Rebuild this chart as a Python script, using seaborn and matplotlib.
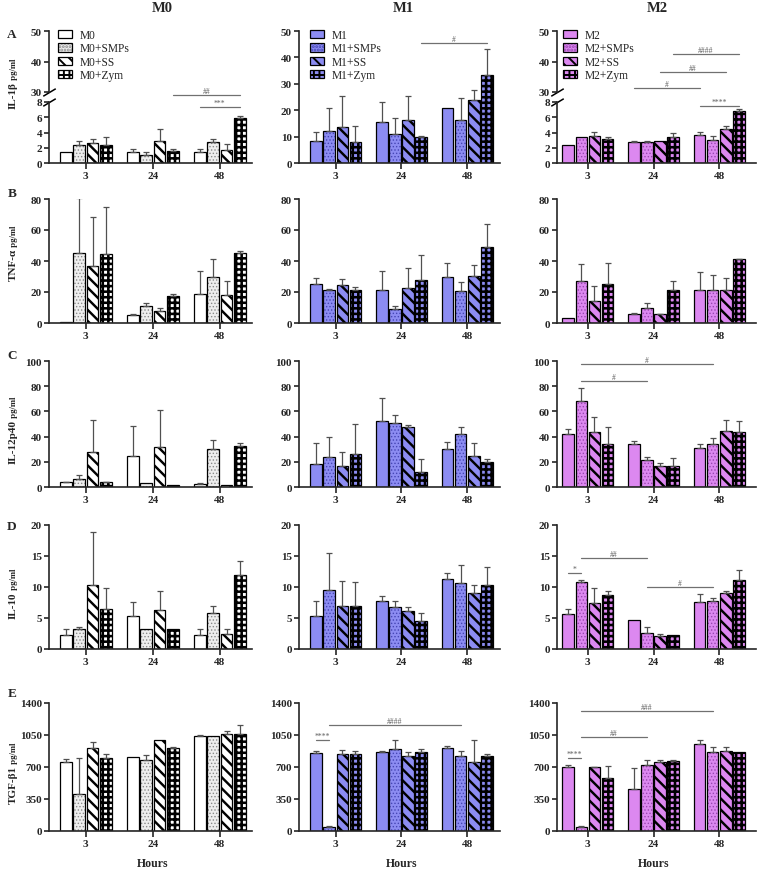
import matplotlib
matplotlib.use("Agg")
import matplotlib.pyplot as plt
import seaborn as sns
import pandas as pd
import numpy as np
from matplotlib.patches import Patch

sns.set_theme(style="ticks")
plt.rcParams["font.family"] = ["Liberation Serif", "DejaVu Serif"]
plt.rcParams["font.weight"] = "bold"
plt.rcParams["hatch.linewidth"] = 1.4
plt.rcParams["axes.linewidth"] = 1.2

# ---------------- data ----------------
hours = ["3", "24", "48"]
cells = ["M0", "M1", "M2"]
suffixes = ["", "+SMPs", "+SS", "+Zym"]
row_letters = ["A", "B", "C", "D", "E"]
cytokines = ["IL-1β", "TNF-α", "IL-12p40", "IL-10", "TGF-β1"]
unit = "pg/ml"
x_title = "Hours"

# values: [hour][treatment]  (treatment order: base, +SMPs, +SS, +Zym)
il1b_m0 = [[1.4, 2.4, 2.6, 2.4], [1.4, 1.1, 2.9, 1.6], [1.4, 2.7, 1.7, 5.9]]
il1b_m0_err = [[0, 0.5, 0.5, 1.0], [0.5, 0.3, 1.5, 0.3], [0.5, 0.4, 0.8, 0.3]]
il1b_m1 = [[8.2, 12.1, 13.5, 8.0], [15.7, 11.1, 16.2, 9.7], [21.0, 16.2, 23.7, 33.2]]
il1b_m1_err = [[3.5, 8.9, 12.0, 6.0], [7.5, 6.1, 9.1, 0.7], [0, 8.4, 4.1, 10.1]]
il1b_m2 = [[2.4, 3.4, 3.5, 3.1], [2.7, 2.7, 2.9, 3.4], [3.7, 3.0, 4.5, 6.8]]
il1b_m2_err = [[0, 0, 0.6, 0.3], [0.2, 0.2, 0, 0.5], [0.4, 0.5, 0.3, 0.3]]

tnf_m0 = [[0.5, 45.2, 36.8, 44.8], [5.2, 11.2, 7.8, 17.3], [18.8, 29.6, 18.2, 45.4]]
tnf_m0_err = [[0, 35.7, 31.7, 29.8], [0.4, 1.6, 1.7, 1.3], [14.7, 11.5, 9.0, 0.9]]
tnf_m1 = [[25.1, 21.3, 24.2, 21.5], [21.5, 9.3, 22.9, 27.8], [29.5, 20.4, 30.5, 49.1]]
tnf_m1_err = [[4.2, 0.4, 4.4, 1.7], [12.0, 1.6, 12.3, 16.2], [9.4, 5.9, 7.2, 14.5]]
tnf_m2 = [[3.0, 27.0, 14.0, 25.0], [6.0, 10.0, 5.5, 21.0], [21.0, 21.0, 21.0, 41.0]]
tnf_m2_err = [[0, 11.0, 10.0, 14.0], [0.5, 3.0, 0.5, 6.0], [12.0, 10.0, 8.0, 0.5]]

il12_m0 = [[3.7, 6.0, 27.6, 3.7], [25.0, 2.9, 31.6, 1.6], [2.1, 30.3, 1.8, 32.4]]
il12_m0_err = [[0.5, 3.2, 25.3, 0.5], [23.7, 0, 29.7, 0], [1.1, 6.8, 0, 2.9]]
il12_m1 = [[18.0, 24.0, 17.0, 26.0], [52.0, 51.0, 48.0, 12.0], [30.0, 42.0, 25.0, 20.0]]
il12_m1_err = [[17.0, 16.0, 11.0, 24.0], [19.0, 6.0, 1.0, 10.0], [6.0, 6.0, 10.0, 2.0]]
il12_m2 = [[42.0, 68.6, 43.4, 34.0], [34.0, 21.3, 16.5, 17.0], [30.9, 33.8, 44.1, 43.9]]
il12_m2_err = [[4.0, 10.1, 12.5, 13.3], [2.7, 2.9, 2.6, 5.9], [3.1, 5.0, 9.1, 8.2]]

il10_m0 = [[2.2, 3.2, 10.3, 6.5], [5.4, 3.2, 6.3, 3.2], [2.2, 5.8, 2.5, 12.0]]
il10_m0_err = [[1.0, 0.3, 8.6, 3.4], [2.2, 0, 3.0, 0], [1.0, 1.1, 0.7, 2.2]]
il10_m1 = [[5.4, 9.5, 7.0, 6.9], [7.8, 6.7, 6.1, 4.5], [11.3, 10.6, 9.0, 10.4]]
il10_m1_err = [[2.3, 6.0, 4.0, 3.9], [0.8, 1.0, 0.6, 1.3], [0.9, 2.9, 1.4, 2.8]]
il10_m2 = [[5.6, 10.8, 7.4, 8.7], [4.7, 2.6, 2.1, 2.3], [7.6, 7.8, 9.1, 11.1]]
il10_m2_err = [[0.9, 0.3, 2.5, 0.7], [0, 0.9, 0.3, 0], [1.2, 0.4, 0.2, 1.7]]

tgf_m0 = [[755, 405, 908, 800], [810, 780, 1000, 905], [1040, 1040, 1065, 1065]]
tgf_m0_err = [[29, 394, 62, 43], [0, 50, 0, 17], [8, 0, 25, 90]]
tgf_m1 = [[858, 47, 844, 840], [862, 902, 818, 866], [909, 818, 756, 822]]
tgf_m1_err = [[18, 8, 43, 33], [18, 91, 47, 29], [22, 62, 237, 18]]
tgf_m2 = [[705, 44, 698, 582], [462, 720, 756, 767], [953, 865, 873, 865]]
tgf_m2_err = [[19, 11, 7, 127], [225, 55, 19, 11], [40, 55, 47, 0]]

ticks_il1b = [0, 10, 20, 30, 40, 50]
ticks_il1b_low = [0, 2, 4, 6, 8]
ticks_il1b_high = [30, 40, 50]
ticks_tnf = [0, 20, 40, 60, 80]
ticks_il12 = [0, 20, 40, 60, 80, 100]
ticks_il10 = [0, 5, 10, 15, 20]
ticks_tgf = [0, 350, 700, 1050, 1400]

# significance annotations: (from, to, height, label)
sig_il1b_m0 = [(1.3, 2.3, 29.0, "##"), (1.7, 2.3, 7.3, "***")]
sig_il1b_m1 = [(1.3, 2.3, 45.5, "#")]
sig_il1b_m2 = [(1.3, 2.3, 42.5, "####"), (1.1, 2.1, 36.5, "##"),
               (0.7, 1.7, 31.3, "#"), (1.7, 2.3, 7.5, "****")]
sig_il12_m2 = [(-0.1, 1.9, 97.6, "#"), (-0.1, 0.9, 84.0, "#")]
sig_il10_m2 = [(-0.3, -0.1, 12.3, "*"), (-0.1, 0.9, 14.7, "##"), (0.9, 1.9, 10.0, "#")]
sig_tgf_m1 = [(-0.3, -0.1, 995, "****"), (-0.1, 1.9, 1160, "####")]
sig_tgf_m2 = [(-0.3, -0.1, 798, "****"), (-0.1, 0.9, 1028, "##"), (-0.1, 1.9, 1312, "###")]

values = [[il1b_m0, il1b_m1, il1b_m2], [tnf_m0, tnf_m1, tnf_m2],
          [il12_m0, il12_m1, il12_m2], [il10_m0, il10_m1, il10_m2],
          [tgf_m0, tgf_m1, tgf_m2]]
errors = [[il1b_m0_err, il1b_m1_err, il1b_m2_err], [tnf_m0_err, tnf_m1_err, tnf_m2_err],
          [il12_m0_err, il12_m1_err, il12_m2_err], [il10_m0_err, il10_m1_err, il10_m2_err],
          [tgf_m0_err, tgf_m1_err, tgf_m2_err]]
row_ticks = [ticks_il1b, ticks_tnf, ticks_il12, ticks_il10, ticks_tgf]
sigs = {(0, 0): sig_il1b_m0, (0, 1): sig_il1b_m1, (0, 2): sig_il1b_m2,
        (2, 2): sig_il12_m2, (3, 2): sig_il10_m2, (4, 1): sig_tgf_m1, (4, 2): sig_tgf_m2}

# ---------------- style ----------------
base_col = {"M0": "#ffffff", "M1": "#8c8cf2", "M2": "#dc88f0"}
smp_face = {"M0": "#eeeeee", "M1": "#8c8cf2", "M2": "#dc88f0"}
smp_dot = {"M0": "#8a8a8a", "M1": "#4646b4", "M2": "#9a46b0"}
HAS_HLW = hasattr(Patch(), "set_hatch_linewidth")


def styles(cell):
    # (face, hatch, hatch colour, hatch lw)
    return [(base_col[cell], None, base_col[cell], 0.0),
            (smp_face[cell], ".....", smp_dot[cell], 0.6),
            (base_col[cell], "\\\\\\", "black", 1.75),
            (base_col[cell], "+++", "black", 1.85)]


def style_patch(p, face, hatch, hc, hlw):
    p.set_facecolor(face)
    p.set_edgecolor(hc)
    p.set_linewidth(0)
    if hatch:
        p.set_hatch(hatch)
        if HAS_HLW:
            p.set_hatch_linewidth(hlw)


W, H = 758, 870
fig = plt.figure(figsize=(W / 100, H / 100), dpi=100)

col_x = [(49, 252), (299, 500), (557, 756)]
row_y = [(32, 164), (200, 324), (362, 488), (526, 650), (704, 832)]
xlims = [(-0.55, 2.48), (-0.56, 2.5), (-0.47, 2.56)]
ylab_start = [109, 281, 464, 619, 804]
letter_y = [35, 194, 356, 527, 694]
legend_pos = [(58, 30), (310, 30), (563, 30)]
BAR_GAP = 0.12
TICK_FS = 8


def add_ax(x0, x1, y0, y1):
    return fig.add_axes([x0 / W, 1 - y1 / H, (x1 - x0) / W, (y1 - y0) / H])


def finish_axis(ax, xl, ticks, show_x=True):
    ax.set_xlim(*xl)
    ax.set_ylim(ticks[0], ticks[-1])
    ax.set_yticks(ticks)
    ax.set_xlabel("")
    ax.set_ylabel("")
    for s in ["top", "right"]:
        ax.spines[s].set_visible(False)
    for s in ["left", "bottom"]:
        ax.spines[s].set_linewidth(1.2)
    ax.tick_params(axis="both", labelsize=TICK_FS, width=1.2, length=3.5, pad=1.5, direction="out")
    ax.tick_params(axis="x", length=4)
    if not show_x:
        ax.spines["bottom"].set_visible(False)
        ax.tick_params(axis="x", bottom=False, labelbottom=False)


def draw_bars(ax, vals, errs, cell):
    groups = [cell + s for s in suffixes]
    df = pd.DataFrame([(h, groups[j], vals[i][j]) for i, h in enumerate(hours)
                       for j in range(len(groups))], columns=["Hours", "Group", "Value"])
    n0 = len(ax.containers)
    sns.barplot(data=df, x="Hours", y="Value", hue="Group", order=hours, hue_order=groups,
                errorbar=None, palette=[base_col[cell]] * 4, saturation=1, width=0.8,
                gap=BAR_GAP, ax=ax, legend=False)
    conts = ax.containers[n0:n0 + 4]
    for (face, hatch, hc, hlw), cont in zip(styles(cell), conts):
        for p in cont:
            style_patch(p, face, hatch, hc, hlw)
    n1 = len(ax.containers)
    sns.barplot(data=df, x="Hours", y="Value", hue="Group", order=hours, hue_order=groups,
                errorbar=None, palette=["black"] * 4, fill=False, width=0.8,
                gap=BAR_GAP, ax=ax, legend=False)
    for cont in ax.containers[n1:n1 + 4]:
        for p in cont:
            p.set_facecolor("none")
            p.set_edgecolor("black")
            p.set_linewidth(0.9)
            p.set_hatch(None)
    for k, cont in enumerate(conts):
        xs = np.array([p.get_x() + p.get_width() / 2 for p in cont])
        ys = np.array([p.get_height() for p in cont])
        es = np.array([errs[i][k] for i in range(len(hours))], dtype=float)
        m = es > 0
        if m.any():
            ax.errorbar(xs[m], ys[m], yerr=[np.zeros(m.sum()), es[m]], fmt="none",
                        ecolor="#505050", elinewidth=0.9, capsize=2.2, capthick=0.9, zorder=3)


def draw_sig(ax, items):
    for x1, x2, y, lab in items:
        ax.plot([x1, x2], [y, y], color="#707070", lw=0.9, clip_on=False, zorder=4)
        ax.text((x1 + x2) / 2, y, lab, ha="center", va="bottom", fontsize=5.5,
                color="#606060", fontweight="normal", clip_on=False)


def legend_for(ax, cell, pos):
    handles = []
    for face, hatch, hc, hlw in styles(cell):
        p1 = Patch(facecolor=face, edgecolor=hc, hatch=hatch, linewidth=0)
        if hatch and HAS_HLW:
            p1.set_hatch_linewidth(hlw)
        p2 = Patch(facecolor="none", edgecolor="black", linewidth=0.9)
        handles.append((p1, p2))
    ax.legend(handles, [cell + s for s in suffixes], loc="upper left",
              bbox_to_anchor=(pos[0] / W, 1 - pos[1] / H), bbox_transform=fig.transFigure,
              frameon=False, borderaxespad=0, borderpad=0, handlelength=1.25,
              handleheight=0.75, labelspacing=0.12, handletextpad=0.65,
              prop={"size": 8.3, "weight": "normal"})


for r in range(5):
    y0, y1 = row_y[r]
    for c in range(3):
        x0, x1 = col_x[c]
        cell = cells[c]
        vals, errs = values[r][c], errors[r][c]
        if r == 0 and c in (0, 2):
            ax_hi = add_ax(x0, x1, 32, 93)
            ax_lo = add_ax(x0, x1, 103, 164)
            draw_bars(ax_lo, vals, errs, cell)
            finish_axis(ax_lo, xlims[c], ticks_il1b_low)
            ax_hi.set_xlim(*xlims[c])
            finish_axis(ax_hi, xlims[c], ticks_il1b_high, show_x=False)
            for a, yy in ((ax_hi, 0), (ax_lo, 1)):
                a.plot([0], [yy], transform=a.transAxes, marker=[(-1, -0.6), (1, 0.6)],
                       markersize=9, color="black", mew=1.1, clip_on=False)
            for it in sigs.get((r, c), []):
                draw_sig(ax_hi if it[2] > 8 else ax_lo, [it])
            legend_for(ax_hi, cell, legend_pos[c])
            main_ax = ax_lo
        else:
            ax = add_ax(x0, x1, y0, y1)
            draw_bars(ax, vals, errs, cell)
            finish_axis(ax, xlims[c], row_ticks[r])
            draw_sig(ax, sigs.get((r, c), []))
            if r == 0:
                legend_for(ax, cell, legend_pos[c])
            main_ax = ax
        if r == 4:
            xl = xlims[c]
            main_ax.set_xlabel(x_title, fontsize=8.5, fontweight="bold")
            main_ax.xaxis.set_label_coords((1 - xl[0]) / (xl[1] - xl[0]), -0.2)

# column titles
for c in range(3):
    cx = [162, 403, 657][c]
    fig.text(cx / W, 1 - 9 / H, cells[c], ha="center", va="center", fontsize=10.5, fontweight="bold")

# row letters and y labels
for r in range(5):
    fig.text(12 / W, 1 - letter_y[r] / H, row_letters[r], ha="center", va="center",
             fontsize=9.5, fontweight="bold")
    t1 = fig.text(13 / W, 1 - ylab_start[r] / H, cytokines[r], rotation=90, ha="center",
                  va="bottom", fontsize=8, fontweight="bold")
    fig.axes[0].annotate(" " + unit, xy=(0.65, 1.0), xycoords=t1, rotation=90, ha="center",
                         va="bottom", fontsize=6.3, fontweight="bold", annotation_clip=False)

fig.savefig("out.png", dpi=100)
